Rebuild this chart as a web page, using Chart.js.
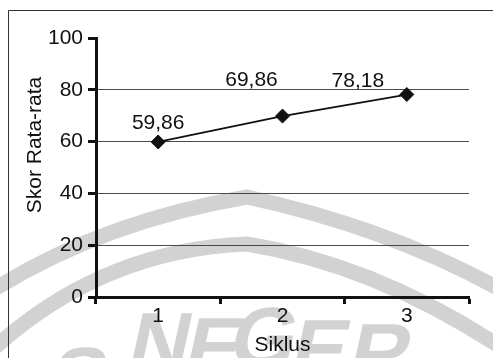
<!DOCTYPE html>
<html>
<head>
<meta charset="utf-8">
<script src="https://cdn.jsdelivr.net/npm/chart.js@4"></script>
<style>
  html, body { margin: 0; padding: 0; background: #fff; }
  canvas { display: block; }
</style>
</head>
<body>
<canvas id="chart" width="493" height="358"></canvas>
<script>
// Average score per cycle
const categories = ['1', '2', '3'];
const skorRataRata = [59.86, 69.86, 78.18];
const yTickValues = [0, 20, 40, 60, 80, 100];

const xTitle = 'Siklus';
const yTitle = 'Skor Rata-rata';

// where each value label sits relative to its point (dx, dy)
const labelOffsets = [[0, -19], [-31, -36], [-49, -13]];

const FONT = '"Liberation Sans", Arial, sans-serif';
const TEXT_SIZE = 21;
const INK = '#111';
const SEAL = '#d2d2d2';

const fmt = v => v.toFixed(2).replace('.', ',');

// pale seal in the background, outer frame
const backdrop = {
  id: 'backdrop',
  beforeDraw(chart) {
    const ctx = chart.ctx;
    ctx.save();
    ctx.fillStyle = '#fff';
    ctx.fillRect(0, 0, chart.width, chart.height);

    ctx.strokeStyle = SEAL;
    ctx.lineWidth = 15;
    ctx.lineCap = 'butt';
    ctx.lineJoin = 'miter';
    ctx.beginPath();
    ctx.moveTo(-10, 292);
    ctx.quadraticCurveTo(100, 222, 247, 197);
    ctx.quadraticCurveTo(390, 228, 505, 292);
    ctx.stroke();
    ctx.beginPath();
    ctx.moveTo(-10, 352);
    ctx.quadraticCurveTo(100, 250, 247, 244);
    ctx.quadraticCurveTo(377, 265, 505, 350);
    ctx.stroke();

    ctx.fillStyle = SEAL;
    ctx.font = 'bold 84px ' + FONT;
    ctx.textAlign = 'center';
    ctx.textBaseline = 'alphabetic';
    const letters = [['S', 86, 346], ['N', 168, 311], ['E', 222, 316], ['G', 272, 306], ['E', 328, 318], ['R', 388, 322]];
    letters.forEach(([ch, x, top]) => {
      ctx.save();
      ctx.translate(x, top);
      ctx.transform(1, 0, -0.22, 1, 0, 0);
      ctx.fillText(ch, 0, 60);
      ctx.restore();
    });

    ctx.strokeStyle = '#333';
    ctx.lineWidth = 1;
    ctx.beginPath();
    ctx.moveTo(8.5, chart.height + 2);
    ctx.lineTo(8.5, 10.5);
    ctx.lineTo(chart.width + 2, 10.5);
    ctx.stroke();
    ctx.restore();
  }
};

// value labels and axis titles
const annotations = {
  id: 'annotations',
  afterDatasetsDraw(chart) {
    const ctx = chart.ctx;
    const meta = chart.getDatasetMeta(0);
    const area = chart.chartArea;
    ctx.save();
    ctx.fillStyle = INK;
    ctx.font = TEXT_SIZE + 'px ' + FONT;
    ctx.textAlign = 'center';
    ctx.textBaseline = 'middle';
    meta.data.forEach((pt, i) => {
      const [dx, dy] = labelOffsets[i];
      ctx.fillText(fmt(skorRataRata[i]), pt.x + dx, pt.y + dy);
    });

    ctx.fillText(xTitle, (area.left + area.right) / 2, 345);

    ctx.save();
    ctx.translate(35, 145);
    ctx.rotate(-Math.PI / 2);
    ctx.fillText(yTitle, 0, 0);
    ctx.restore();
    ctx.restore();
  }
};

new Chart(document.getElementById('chart'), {
  type: 'line',
  data: {
    labels: categories,
    datasets: [{
      label: yTitle,
      data: skorRataRata,
      borderColor: INK,
      borderWidth: 1.8,
      tension: 0,
      pointStyle: 'rectRot',
      pointRadius: 7,
      pointBackgroundColor: INK,
      pointBorderColor: INK,
      pointBorderWidth: 1,
      clip: false
    }]
  },
  options: {
    responsive: false,
    animation: false,
    devicePixelRatio: 1,
    layout: { padding: { top: 38, right: 24, left: 0, bottom: 0 } },
    plugins: {
      legend: { display: false },
      tooltip: { enabled: false }
    },
    scales: {
      x: {
        type: 'category',
        offset: true,
        grid: {
          offset: true,
          drawOnChartArea: false,
          drawTicks: true,
          tickLength: 7,
          tickWidth: 3,
          tickColor: INK
        },
        border: { display: true, width: 3, color: INK },
        ticks: { color: INK, font: { size: TEXT_SIZE, family: FONT }, padding: 0, maxRotation: 0 },
        afterFit(scale) { scale.height = 61; }
      },
      y: {
        min: 0,
        max: 100,
        afterBuildTicks(scale) { scale.ticks = yTickValues.map(v => ({ value: v })); },
        grid: {
          color: c => (c.tick && (c.tick.value === 0 || c.tick.value === 100)) ? 'rgba(0,0,0,0)' : '#4a4a4a',
          lineWidth: 1,
          drawTicks: true,
          tickLength: 8,
          tickWidth: 3,
          tickColor: INK
        },
        border: { display: true, width: 3, color: INK },
        ticks: { color: INK, font: { size: TEXT_SIZE, family: FONT }, padding: 5 },
        afterFit(scale) { scale.width = 96; }
      }
    }
  },
  plugins: [backdrop, annotations]
});
</script>
</body>
</html>
